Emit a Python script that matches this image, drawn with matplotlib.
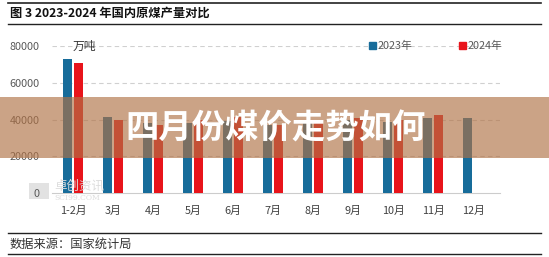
import numpy as np
import matplotlib
matplotlib.use("Agg")
import matplotlib.pyplot as plt
from matplotlib.patches import Rectangle
from matplotlib.lines import Line2D

plt.rcParams['font.family'] = ['Noto Sans CJK SC', 'DejaVu Sans']

# Data (万吨)
months = ['1-2月', '3月', '4月', '5月', '6月', '7月', '8月', '9月', '10月', '11月', '12月']
y2023 = [72900, 41500, 38100, 38300, 39000, 36800, 38100, 39800, 38600, 40700, 40700]
y2024 = [70500, 39800, 37000, 39600, 41300, 37100, 38100, 40800, 40000, 42500]
yticks = [0, 20000, 40000, 60000, 80000]

c2023 = '#176c9a'
c2024 = '#e8141b'

W, H = 549, 257
fig = plt.figure(figsize=(W / 100, H / 100), dpi=100)

# plot area in pixels: x 52..500, y 46..193
ax = fig.add_axes([52 / W, (H - 193) / H, 448 / W, 147 / H])
x = np.arange(len(months))
bw = 0.21
ax.bar(x - 0.137, y2023, width=bw, color=c2023, zorder=3)
ax.bar(x[:len(y2024)] + 0.137, y2024, width=bw, color=c2024, zorder=3)

ax.set_xlim(-0.525, 10.675)
ax.set_ylim(0, 80000)
ax.set_yticks(yticks)
ax.set_yticklabels([str(v) for v in yticks], color='#595959', fontsize=7.8)
ax.set_xticks(x)
ax.set_xticklabels(months, color='#404040', fontsize=7.8)
ax.tick_params(axis='x', length=0, pad=9)
ax.tick_params(axis='y', length=0, pad=9)
for v in yticks[1:]:
    ax.axhline(v, color='#d0d0d0', lw=0.8, ls=(0, (4, 3)), zorder=1)
for s in ['top', 'right', 'left']:
    ax.spines[s].set_visible(False)
ax.spines['bottom'].set_color('#cccccc')
ax.spines['bottom'].set_linewidth(0.8)

ax.text(0.0, 80000, '万吨', fontsize=8.5, color='#333333', va='center', ha='left')

handles = [Rectangle((0, 0), 1, 1, color=c2023), Rectangle((0, 0), 1, 1, color=c2024)]
fig.legend(handles, ['2023年', '2024年'], loc='center left', bbox_to_anchor=(369 / W, 1 - 46 / H),
           ncol=2, frameon=False, fontsize=7.8, handlelength=0.6, handleheight=0.6,
           handletextpad=0.2, columnspacing=4.3, labelcolor='#595959', borderaxespad=0, borderpad=0)

# watermark (faint)
fig.add_artist(Rectangle((29 / W, 1 - 199 / H), 20 / W, 16 / H, transform=fig.transFigure,
                         facecolor='#e2e2e2', edgecolor='none', zorder=0))
fig.text(54 / W, 1 - 186 / H, '卓创资讯', fontsize=9, color='#dddddd', va='center', zorder=0)
fig.text(54 / W, 1 - 198 / H, 'SCI99.COM', fontsize=5.5, color='#dddddd', va='center',
         family='DejaVu Serif', zorder=0)

# title and footer
fig.add_artist(Line2D([8 / W, 541 / W], [1 - 3 / H, 1 - 3 / H], color='#222222', lw=1.2))
fig.add_artist(Line2D([8 / W, 541 / W], [1 - 24 / H, 1 - 24 / H], color='#222222', lw=1.0))
fig.text(10 / W, 1 - 13.5 / H, '图 3 2023-2024 年国内原煤产量对比', fontsize=8.8, weight='bold',
         color='#111111', va='center')
fig.add_artist(Line2D([8 / W, 541 / W], [1 - 233 / H, 1 - 233 / H], color='#222222', lw=1.0))
fig.add_artist(Line2D([8 / W, 541 / W], [1 - 254 / H, 1 - 254 / H], color='#222222', lw=1.0))
fig.text(10 / W, 1 - 244 / H, '数据来源：国家统计局', fontsize=8.8, color='#333333', va='center')

# overlay banner
fig.add_artist(Rectangle((0, 1 - 158 / H), 1, 61 / H, transform=fig.transFigure,
                         facecolor='#b07245', alpha=0.65, edgecolor='none', zorder=10))
fig.text(276 / W, 1 - 129 / H, '四月份煤价走势如何', fontsize=24, weight='heavy', color='white',
         ha='center', va='center', zorder=11)

fig.savefig('out.png', dpi=100)
